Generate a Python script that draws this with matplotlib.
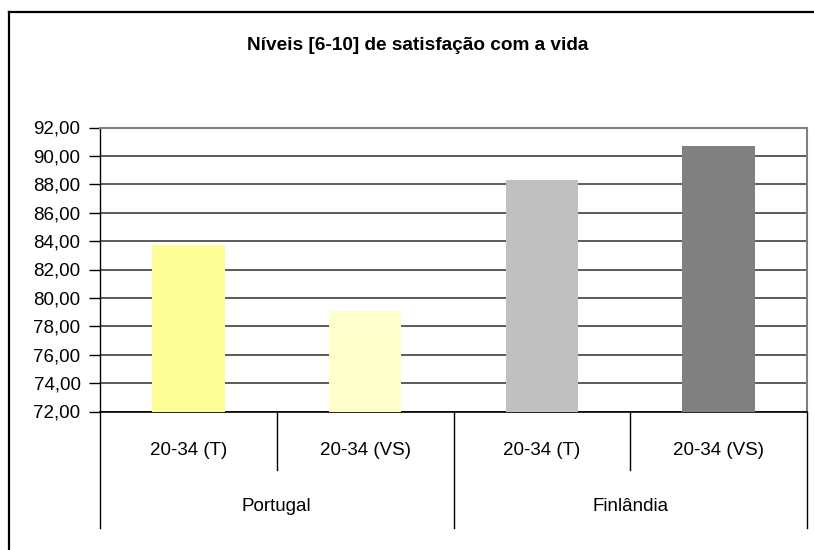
import matplotlib.pyplot as plt
from matplotlib.lines import Line2D

plt.rcParams['font.family'] = ['Liberation Sans', 'DejaVu Sans']

grupos = ["20-34 (T)", "20-34 (VS)", "20-34 (T)", "20-34 (VS)"]
paises = ["Portugal", "Finlândia"]
valores = [83.7, 79.1, 88.3, 90.7]
cores = ["#FFFF99", "#FFFFCC", "#C0C0C0", "#808080"]

fig = plt.figure(figsize=(8.14, 5.5), dpi=100)
ax = fig.add_axes([100/814, 138.5/550, 707/814, 284/550])

# moldura exterior do grafico
fig.add_artist(Line2D([9/814, 9/814], [-0.1, 1 - 12/550], color="black", lw=1.6))
fig.add_artist(Line2D([9/814, 1.1], [1 - 12/550, 1 - 12/550], color="black", lw=1.6))

x = list(range(len(valores)))
plt.bar(x, valores, width=0.41, color=cores, zorder=3)
plt.xlim(-0.5, 3.5)
plt.ylim(72, 92)
plt.yticks([72 + 2*i for i in range(11)], ["%.2f" % (72 + 2*i) for i in range(11)])
ax.set_yticklabels([t.get_text().replace(".", ",") for t in ax.get_yticklabels()], fontsize=13.5)
plt.grid(axis="y", color="#404040", lw=1.2, zorder=1)
plt.tick_params(axis="y", direction="out", length=8, width=1, pad=6)
plt.xticks([])

for s in ["top", "right"]:
    ax.spines[s].set_color("#808080")
    ax.spines[s].set_linewidth(1.5)
ax.spines["left"].set_linewidth(1)
ax.spines["bottom"].set_linewidth(1.2)

fig.text(418/814, 1 - 46/550, "Níveis [6-10] de satisfação com a vida",
         ha="center", va="center", fontsize=13.7, fontweight="bold")

# eixo das categorias em dois niveis
tr = ax.get_xaxis_transform()
for i, g in enumerate(grupos):
    plt.text(i, -0.139, g, transform=tr, ha="center", va="center", fontsize=13.5)
for j, p in enumerate(paises):
    plt.text(2*j + 0.5, -0.336, p, transform=tr, ha="center", va="center", fontsize=13.5)
for xv, fundo in [(-0.5, -0.41), (0.5, -0.206), (1.5, -0.41), (2.5, -0.206), (3.5, -0.41)]:
    ax.add_line(Line2D([xv, xv], [0, fundo], transform=tr, color="black", lw=1, clip_on=False))

plt.savefig("out.png", dpi=100)
